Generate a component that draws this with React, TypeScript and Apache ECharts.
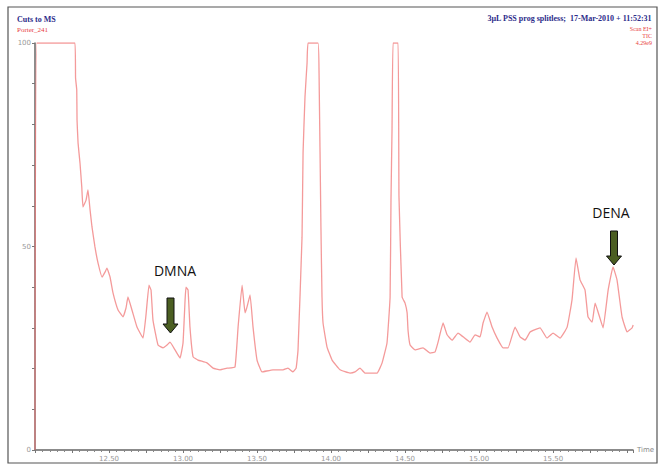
import React, { useEffect, useRef } from "react";
import * as echarts from "echarts";

const times: number[] = [
  12.0, 12.012, 12.27, 12.274, 12.282, 12.284, 12.291, 12.304, 12.316, 12.324, 12.345, 12.358,
  12.372, 12.385, 12.405, 12.426, 12.453, 12.473, 12.486, 12.507, 12.527, 12.561, 12.595, 12.615,
  12.628, 12.655, 12.689, 12.73, 12.75, 12.77, 12.784, 12.797, 12.831, 12.865, 12.892, 12.912,
  12.946, 12.98, 13.0, 13.014, 13.02, 13.034, 13.047, 13.068, 13.101, 13.162, 13.203, 13.25,
  13.297, 13.351, 13.372, 13.399, 13.419, 13.432, 13.453, 13.473, 13.5, 13.534, 13.608, 13.676,
  13.709, 13.743, 13.764, 13.777, 13.804, 13.811, 13.824, 13.838, 13.845, 13.912, 13.919, 13.932,
  13.939, 13.946, 13.973, 14.007, 14.061, 14.128, 14.162, 14.196, 14.23, 14.311, 14.345, 14.378,
  14.399, 14.405, 14.412, 14.419, 14.453, 14.459, 14.48, 14.5, 14.514, 14.52, 14.534, 14.568,
  14.622, 14.669, 14.703, 14.723, 14.757, 14.784, 14.818, 14.858, 14.892, 14.939, 14.973, 15.007,
  15.027, 15.054, 15.088, 15.122, 15.162, 15.196, 15.243, 15.277, 15.311, 15.345, 15.412, 15.459,
  15.5, 15.547, 15.595, 15.628, 15.655, 15.682, 15.716, 15.736, 15.764, 15.784, 15.804, 15.838,
  15.872, 15.905, 15.932, 15.966, 16.0, 16.034, 16.041,
];

const intensities: number[] = [
  0, 100, 100, 91.4, 88.5, 81.1, 75.4, 70.5, 64.6, 59.7, 61.4, 63.9,
  59.0, 54.8, 49.9, 45.9, 42.5, 43.7, 44.7, 42.5, 38.6, 34.4, 32.7, 34.9,
  37.6, 34.4, 30.2, 27.5, 33.2, 40.5, 39.3, 31.9, 25.8, 25.1, 25.8, 26.5,
  24.6, 22.6, 26.3, 36.9, 40.0, 39.3, 30.2, 22.9, 22.1, 21.4, 20.1, 19.7,
  20.1, 20.4, 30.2, 40.5, 33.7, 35.1, 38.1, 30.2, 22.1, 19.2, 19.7, 19.7,
  20.1, 19.2, 20.1, 24.6, 52.3, 73.0, 86.7, 95.1, 100, 100, 92.6, 54.1,
  37.6, 31.2, 25.3, 22.1, 19.7, 18.9, 19.2, 20.1, 18.9, 18.9, 21.4, 26.3,
  37.6, 61.4, 78.6, 100, 100, 62.2, 37.6, 36.1, 33.7, 29.5, 25.8, 24.6,
  25.1, 23.8, 24.1, 26.5, 31.2, 28.3, 27.0, 28.7, 27.8, 26.5, 28.3, 27.8,
  31.2, 33.9, 30.2, 27.5, 25.1, 25.1, 30.2, 27.8, 27.0, 29.0, 30.0, 27.5,
  28.7, 27.5, 30.2, 36.9, 47.2, 41.8, 39.3, 32.7, 31.4, 36.1, 33.9, 30.0,
  39.3, 45.0, 41.8, 32.7, 29.0, 30.0, 30.7,
];

const xTickLabels: number[] = [12.5, 13.0, 13.5, 14.0, 14.5, 15.0, 15.5];
const yTickLabels: number[] = [0, 50, 100];

const headerLeft = ["Cuts to MS", "Porter_241"];
const headerRight = ["3µL PSS prog splitless;  17-Mar-2010 + 11:52:31", "Scan EI+", "TIC", "4.29e9"];
const annotations = [
  { label: "DMNA", t: 12.93 },
  { label: "DENA", t: 15.905 },
];

const arrowPoints = (cx: number, top: number, tip: number) => {
  const shaftHalf = 3.5;
  const headHalf = 7.5;
  const headTop = tip - 9;
  return [
    [cx - shaftHalf, top],
    [cx + shaftHalf, top],
    [cx + shaftHalf, headTop],
    [cx + headHalf, headTop],
    [cx, tip],
    [cx - headHalf, headTop],
    [cx - shaftHalf, headTop],
  ];
};

export default function App() {
  const ref = useRef<HTMLDivElement>(null);
  useEffect(() => {
    if (!ref.current) return;
    const chart = echarts.init(ref.current, undefined, { renderer: "svg" });
    const data = times.map((t, i) => [t, intensities[i]]);
    const near = (v: number, list: number[]) => list.some((l) => Math.abs(l - v) < 1e-6);
    chart.setOption({
      animation: false,
      backgroundColor: "#ffffff",
      grid: { left: 35, right: 26, top: 43, bottom: 15, containLabel: false },
      xAxis: {
        type: "value",
        min: 12.0,
        max: 16.04,
        interval: 0.25,
        axisLine: { show: true, lineStyle: { color: "#666", width: 1.5 } },
        axisTick: { show: true, length: 3, lineStyle: { color: "#777" } },
        minorTick: { show: true, splitNumber: 5, length: 2, lineStyle: { color: "#888" } },
        splitLine: { show: false },
        axisLabel: {
          fontSize: 7,
          color: "#999",
          margin: 5,
          fontFamily: "DejaVu Sans",
          showMinLabel: false,
          showMaxLabel: false,
          formatter: (v: number) => (near(v, xTickLabels) ? v.toFixed(2) : ""),
        },
        name: "Time",
        nameLocation: "end",
        nameGap: 4,
        nameTextStyle: { fontSize: 7, color: "#888", fontFamily: "DejaVu Sans", verticalAlign: "middle" },
      },
      yAxis: {
        type: "value",
        min: 0,
        max: 100,
        interval: 10,
        axisLine: { show: true, lineStyle: { color: "#666", width: 1.5 } },
        axisTick: { show: true, length: 3, lineStyle: { color: "#777" } },
        splitLine: { show: false },
        axisLabel: {
          fontSize: 7,
          color: "#999",
          margin: 4,
          fontFamily: "DejaVu Sans",
          formatter: (v: number) => (near(v, yTickLabels) ? String(v) : ""),
        },
      },
      series: [
        {
          type: "line",
          data,
          showSymbol: false,
          symbol: "none",
          smooth: 0.1,
          lineStyle: { color: "#f07878", width: 1.3, opacity: 0.75 },
          clip: true,
          z: 3,
        },
      ],
      graphic: [
        {
          type: "rect",
          shape: { x: 8, y: 7, width: 649, height: 456 },
          style: { fill: "none", stroke: "#555", lineWidth: 1.2 },
          z: 1,
        },
        {
          type: "text",
          left: 17,
          top: 15,
          style: { text: headerLeft[0], fill: "#2c2c8a", font: "bold 8px 'Liberation Serif'" },
        },
        {
          type: "text",
          left: 17,
          top: 26,
          style: { text: headerLeft[1], fill: "#e84040", font: "7px 'Liberation Serif'" },
        },
        {
          type: "text",
          right: 7,
          top: 14,
          style: { text: headerRight[0], fill: "#2c2c8a", font: "bold 8px 'Liberation Serif'" },
        },
        {
          type: "text",
          right: 7,
          top: 26,
          style: { text: headerRight[1], fill: "#e84040", font: "6px 'Liberation Serif'", align: "right" },
        },
        {
          type: "text",
          right: 7,
          top: 33,
          style: { text: headerRight[2], fill: "#e84040", font: "6px 'Liberation Serif'", align: "right" },
        },
        {
          type: "text",
          right: 7,
          top: 40,
          style: { text: headerRight[3], fill: "#e84040", font: "6px 'Liberation Serif'", align: "right" },
        },
        {
          type: "text",
          x: 175,
          y: 270,
          style: {
            text: annotations[0].label,
            fill: "#111",
            font: "14px 'Open Sans'",
            align: "center",
            verticalAlign: "middle",
          },
          z: 10,
        },
        {
          type: "text",
          x: 611,
          y: 212,
          style: {
            text: annotations[1].label,
            fill: "#111",
            font: "14px 'Open Sans'",
            align: "center",
            verticalAlign: "middle",
          },
          z: 10,
        },
        {
          type: "polygon",
          shape: { points: arrowPoints(170.5, 298, 333) },
          style: { fill: "#4b5e22", stroke: "#111", lineWidth: 1 },
          z: 10,
        },
        {
          type: "polygon",
          shape: { points: arrowPoints(614, 231, 265) },
          style: { fill: "#4b5e22", stroke: "#111", lineWidth: 1 },
          z: 10,
        },
      ],
    });
    return () => chart.dispose();
  }, []);
  return (
    <div
      ref={ref}
      style={{ position: "fixed", left: 0, top: 0, width: 659, height: 465 }}
    />
  );
}
